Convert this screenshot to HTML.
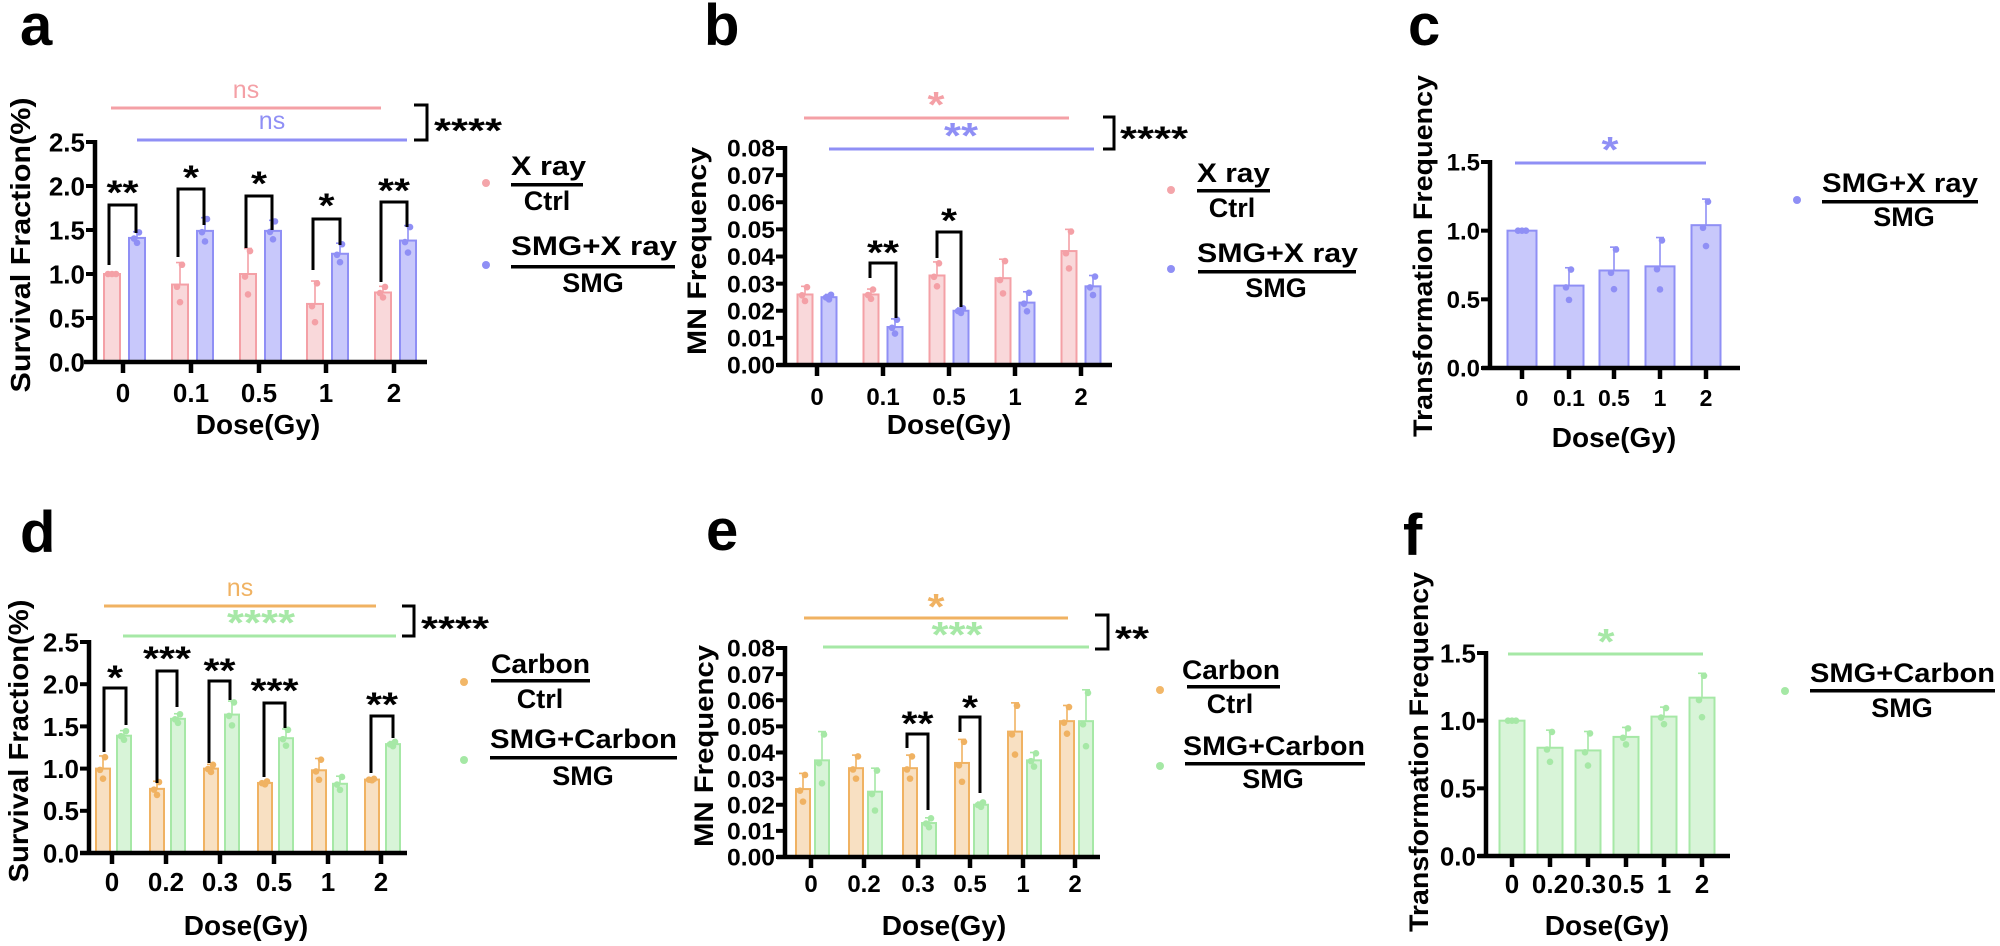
<!DOCTYPE html>
<html><head><meta charset="utf-8"><style>html,body{margin:0;padding:0;background:#fff}svg{display:block}</style></head>
<body>
<svg id="s" width="2000" height="946" viewBox="0 0 2000 946" xmlns="http://www.w3.org/2000/svg" font-family="Liberation Sans, Arial, sans-serif" font-weight="bold">
<rect width="2000" height="946" fill="#fff"/>
<text x="20" y="45" font-size="58">a</text>
<text x="704" y="45" font-size="58">b</text>
<text x="1408" y="45" font-size="58">c</text>
<text x="20" y="552" font-size="58">d</text>
<text x="706" y="550" font-size="58">e</text>
<text x="1403" y="555" font-size="58">f</text>
<text transform="translate(30,245) rotate(-90)" text-anchor="middle" font-size="28" textLength="295" lengthAdjust="spacingAndGlyphs">Survival Fraction(%)</text>
<text transform="translate(706,251) rotate(-90)" text-anchor="middle" font-size="27" textLength="208" lengthAdjust="spacingAndGlyphs">MN Frequency</text>
<text transform="translate(1432,256) rotate(-90)" text-anchor="middle" font-size="27" textLength="362" lengthAdjust="spacingAndGlyphs">Transformation Frequency</text>
<text transform="translate(28,741) rotate(-90)" text-anchor="middle" font-size="28" textLength="283" lengthAdjust="spacingAndGlyphs">Survival Fraction(%)</text>
<text transform="translate(713,746) rotate(-90)" text-anchor="middle" font-size="27" textLength="202" lengthAdjust="spacingAndGlyphs">MN Frequency</text>
<text transform="translate(1428,752) rotate(-90)" text-anchor="middle" font-size="27" textLength="360" lengthAdjust="spacingAndGlyphs">Transformation Frequency</text>
<text x="258" y="434" text-anchor="middle" font-size="28">Dose(Gy)</text>
<text x="949" y="434" text-anchor="middle" font-size="28">Dose(Gy)</text>
<text x="1614" y="447" text-anchor="middle" font-size="28">Dose(Gy)</text>
<text x="246" y="935" text-anchor="middle" font-size="28">Dose(Gy)</text>
<text x="944" y="935" text-anchor="middle" font-size="28">Dose(Gy)</text>
<text x="1607" y="935" text-anchor="middle" font-size="28">Dose(Gy)</text>
<g font-size="27">
<circle cx="486" cy="183" r="4" fill="#f4a5aa"/><text x="511" y="175" textLength="75" lengthAdjust="spacingAndGlyphs">X ray</text><rect x="511" y="183" width="72" height="3.5"/><text x="547" y="210" text-anchor="middle">Ctrl</text>
<circle cx="486" cy="265" r="4" fill="#8f8ff5"/><text x="511" y="255" textLength="166" lengthAdjust="spacingAndGlyphs">SMG+X ray</text><rect x="511" y="265" width="164" height="3.5"/><text x="593" y="292" text-anchor="middle">SMG</text>
<circle cx="1171" cy="190" r="4" fill="#f4a5aa"/><text x="1197" y="182" textLength="73" lengthAdjust="spacingAndGlyphs">X ray</text><rect x="1197" y="189" width="73" height="3.5"/><text x="1232" y="217" text-anchor="middle">Ctrl</text>
<circle cx="1171" cy="269" r="4" fill="#8f8ff5"/><text x="1197" y="262" textLength="161" lengthAdjust="spacingAndGlyphs">SMG+X ray</text><rect x="1198" y="270" width="158" height="3.5"/><text x="1276" y="297" text-anchor="middle">SMG</text>
<circle cx="1797" cy="200" r="4" fill="#8f8ff5"/><text x="1822" y="192" textLength="156" lengthAdjust="spacingAndGlyphs">SMG+X ray</text><rect x="1822" y="200" width="156" height="3.5"/><text x="1904" y="226" text-anchor="middle">SMG</text>
<circle cx="464" cy="682" r="4" fill="#f2b768"/><text x="491" y="673" textLength="99" lengthAdjust="spacingAndGlyphs">Carbon</text><rect x="491" y="679" width="99" height="3.5"/><text x="540" y="708" text-anchor="middle">Ctrl</text>
<circle cx="464" cy="760" r="4" fill="#a5e8a5"/><text x="490" y="748" textLength="187" lengthAdjust="spacingAndGlyphs">SMG+Carbon</text><rect x="490" y="756" width="187" height="3.5"/><text x="583" y="785" text-anchor="middle">SMG</text>
<circle cx="1160" cy="690" r="4" fill="#f2b768"/><text x="1182" y="679" textLength="98" lengthAdjust="spacingAndGlyphs">Carbon</text><rect x="1187" y="685" width="93" height="3.5"/><text x="1230" y="713" text-anchor="middle">Ctrl</text>
<circle cx="1160" cy="766" r="4" fill="#a5e8a5"/><text x="1183" y="755" textLength="182" lengthAdjust="spacingAndGlyphs">SMG+Carbon</text><rect x="1185" y="762" width="180" height="3.5"/><text x="1273" y="788" text-anchor="middle">SMG</text>
<circle cx="1785" cy="691" r="4" fill="#a5e8a5"/><text x="1810" y="682" textLength="185" lengthAdjust="spacingAndGlyphs">SMG+Carbon</text><rect x="1810" y="689" width="185" height="3.5"/><text x="1902" y="717" text-anchor="middle">SMG</text>
</g>
<g id="g"></g>
</svg>
<script>
var out=[];
function L(x1,y1,x2,y2,c,w){out.push('<line x1="'+x1+'" y1="'+y1+'" x2="'+x2+'" y2="'+y2+'" stroke="'+c+'" stroke-width="'+w+'"/>');}
function T(x,y,s,fs,extra){out.push('<text x="'+x+'" y="'+y+'" font-size="'+fs+'" '+(extra||'')+'>'+s+'</text>');}
var C={p:['#f4a0a6','#f9d8da'],b:['#8f8ff5','#c8c8fb'],o:['#f0b262','#f8e0c2'],g:['#a6e8a6','#d8f4d8']};
function panel(P){
  var Y=function(v){return P.y0-v/P.max*(P.y0-P.yt);};
  P.groups.forEach(function(gr,i){
    gr.forEach(function(b){
      var cx=P.xt[i]+b.off, col=C[b.c], w=P.w, yv=Y(b.v);
      out.push('<rect x="'+(cx-w/2)+'" y="'+yv+'" width="'+w+'" height="'+(P.y0-yv)+'" fill="'+col[1]+'" stroke="'+col[0]+'" stroke-width="2"/>');
      if(b.e>0){var ye=Y(b.v+b.e);L(cx,yv,cx,ye,col[0],1.6);L(cx-4,ye,cx+4,ye,col[0],1.6);}
      var ds=[b.v+b.e*0.9,b.v-b.e*0.1,b.v-b.e*0.8];var dx=[2,-3,0];
      if(b.e===0){ds=[b.v,b.v,b.v];dx=[-4,0,4];}
      ds.forEach(function(d,k){out.push('<circle cx="'+(cx+dx[k])+'" cy="'+Y(d)+'" r="3.3" fill="'+col[0]+'"/>');});
    });
  });
  L(P.ax,P.yt-2,P.ax,P.y0+2,'#000',4.5);
  L(P.xs,P.y0,P.xe,P.y0,'#000',4.5);
  P.yticks.forEach(function(t){var y=Y(t[0]);L(P.ax-9,y,P.ax,y,'#000',4);T(P.ax-10,y+P.tfs*0.36,t[1],P.tfs,'text-anchor="end"'+(P.tl?' textLength="'+P.tl+'" lengthAdjust="spacingAndGlyphs"':''));});
  P.xt.forEach(function(x,i){L(x,P.y0,x,P.y0+11,'#000',4.5);T(x,P.xly,P.xl[i],P.xfs||P.tfs,'text-anchor="middle"');});
  (P.sig||[]).forEach(function(s){L(s.x1,s.y,s.x2,s.y,C[s.c][0],3);
    if(s.ns)T((s.x1+s.x2)/2+(s.dx||0),s.ty+8,'ns',25,'font-weight="normal" fill="'+C[s.c][0]+'" text-anchor="middle"');
    else T(s.tx,s.ty+17,s.t,36,'fill="'+C[s.c][0]+'" text-anchor="middle" textLength="'+(s.t.length*17)+'" lengthAdjust="spacingAndGlyphs"');});
  if(P.br){var b=P.br;out.push('<polyline points="'+b.x1+','+b.y1+' '+b.x2+','+b.y1+' '+b.x2+','+b.y2+' '+b.x1+','+b.y2+'" fill="none" stroke="#000" stroke-width="3"/>');
    T(b.tx,b.ty+17,b.t,34,'textLength="'+(b.t.length*17)+'" lengthAdjust="spacingAndGlyphs"');}
  (P.pairs||[]).forEach(function(p){out.push('<polyline points="'+p.l+','+p.lb+' '+p.l+','+p.top+' '+p.r+','+p.top+' '+p.r+','+p.rb+'" fill="none" stroke="#000" stroke-width="3"/>');
    T((p.l+p.r)/2,p.sy+17,p.t,34,'text-anchor="middle" textLength="'+(p.t.length*16)+'" lengthAdjust="spacingAndGlyphs"');});
}
function g2(a,b,c1,c2,o1,o2){return a.map(function(x,i){return [{c:c1,off:o1,v:x[0],e:x[1]},{c:c2,off:o2,v:b[i][0],e:b[i][1]}];});}
function g1(a,c){return a.map(function(x){return [{c:c,off:0,v:x[0],e:x[1]}];});}
var sfT=[[0,'0.0'],[0.5,'0.5'],[1,'1.0'],[1.5,'1.5'],[2,'2.0'],[2.5,'2.5']];
var mnT=[];for(var i=0;i<=8;i++)mnT.push([i/100,'0.0'+i]);
var tfT=[[0,'0.0'],[0.5,'0.5'],[1,'1.0'],[1.5,'1.5']];
panel({ax:95,y0:362,yt:142,max:2.5,xs:84,xe:427,xt:[123,191,259,326,394],xl:['0','0.1','0.5','1','2'],xly:402,tfs:26,yticks:sfT,w:16,
 groups:g2([[1,0],[0.88,0.25],[1,0.29],[0.66,0.26],[0.79,0.07]],[[1.41,0.07],[1.49,0.15],[1.49,0.12],[1.23,0.12],[1.38,0.17]],'p','b',-11,14),
 sig:[{x1:111,x2:381,y:108,c:'p',ns:1,ty:90},{x1:137,x2:407,y:140,c:'b',ns:1,ty:121}],
 br:{x1:414,x2:427,y1:105,y2:140,tx:434,ty:125,t:'****'},
 pairs:[{l:109,r:136,top:205,lb:265,rb:233,sy:187,t:'**'},{l:178,r:204,top:189,lb:257,rb:225,sy:172,t:'*'},{l:246,r:272,top:196,lb:248,rb:230,sy:178,t:'*'},{l:313,r:340,top:219,lb:270,rb:245,sy:200,t:'*'},{l:381,r:407,top:202,lb:282,rb:227,sy:185,t:'**'}]});
panel({ax:785,y0:365,yt:148,max:0.08,xs:777,xe:1112,xt:[817,883,949,1015,1081],xl:['0','0.1','0.5','1','2'],xly:405,tfs:24,tl:48,yticks:mnT,w:15,
 groups:g2([[0.026,0.003],[0.026,0.002],[0.033,0.005],[0.032,0.007],[0.042,0.008]],[[0.025,0.001],[0.014,0.003],[0.020,0.001],[0.023,0.004],[0.029,0.004]],'p','b',-12,12),
 sig:[{x1:804,x2:1069,y:118,c:'p',tx:936,ty:100,t:'*'},{x1:829,x2:1094,y:149,c:'b',tx:961,ty:131,t:'**'}],
 br:{x1:1103,x2:1114,y1:117,y2:149,tx:1120,ty:133,t:'****'},
 pairs:[{l:870,r:896,top:263,lb:278,rb:318,sy:247,t:'**'},{l:937,r:961,top:232,lb:258,rb:307,sy:215,t:'*'}]});
panel({ax:1490,y0:368,yt:162,max:1.5,xs:1482,xe:1740,xt:[1522,1569,1614,1660,1706],xl:['0','0.1','0.5','1','2'],xly:406,tfs:24,xfs:23,yticks:tfT,w:29,
 groups:g1([[1,0],[0.6,0.13],[0.71,0.17],[0.74,0.21],[1.04,0.19]],'b'),
 sig:[{x1:1515,x2:1706,y:163,c:'b',tx:1610,ty:145,t:'*'}]});
panel({ax:89,y0:853,yt:642,max:2.5,xs:80,xe:407,xt:[112,166,220,274,328,381],xl:['0','0.2','0.3','0.5','1','2'],xly:891,tfs:26,yticks:sfT,w:14,
 groups:g2([[1,0.15],[0.76,0.09],[1,0.05],[0.83,0.02],[0.98,0.14],[0.87,0.01]],[[1.39,0.06],[1.59,0.06],[1.64,0.16],[1.36,0.11],[0.82,0.09],[1.29,0.03]],'o','g',-9,12),
 sig:[{x1:104,x2:376,y:606,c:'o',ns:1,ty:588},{x1:123,x2:396,y:636,c:'g',tx:261,ty:618,t:'****'}],
 br:{x1:402,x2:414,y1:606,y2:636,tx:421,ty:623,t:'****'},
 pairs:[{l:104,r:126,top:688,lb:752,rb:725,sy:672,t:'*'},{l:157,r:177,top:671,lb:783,rb:707,sy:653,t:'***'},{l:209,r:230,top:681,lb:763,rb:700,sy:665,t:'**'},{l:264,r:285,top:703,lb:777,rb:728,sy:685,t:'***'},{l:371,r:393,top:716,lb:773,rb:738,sy:699,t:'**'}]});
panel({ax:785,y0:857,yt:648,max:0.08,xs:777,xe:1100,xt:[811,864,918,970,1023,1075],xl:['0','0.2','0.3','0.5','1','2'],xly:892,tfs:24,tl:48,yticks:mnT,w:14,
 groups:g2([[0.026,0.006],[0.034,0.005],[0.034,0.005],[0.036,0.009],[0.048,0.011],[0.052,0.006]],[[0.037,0.011],[0.025,0.009],[0.013,0.002],[0.020,0.001],[0.037,0.003],[0.052,0.012]],'o','g',-8,11),
 sig:[{x1:804,x2:1068,y:618,c:'o',tx:936,ty:602,t:'*'},{x1:823,x2:1089,y:647,c:'g',tx:957,ty:630,t:'***'}],
 br:{x1:1095,x2:1108,y1:615,y2:649,tx:1115,ty:633,t:'**'},
 pairs:[{l:907,r:928,top:734,lb:748,rb:810,sy:718,t:'**'},{l:960,r:980,top:717,lb:732,rb:793,sy:702,t:'*'}]});
panel({ax:1486,y0:856,yt:653,max:1.5,xs:1478,xe:1730,xt:[1512,1550,1588,1626,1664,1702],xl:['0','0.2','0.3','0.5','1','2'],xly:893,tfs:26,yticks:tfT,w:25,
 groups:g1([[1,0],[0.8,0.13],[0.78,0.14],[0.88,0.07],[1.03,0.07],[1.17,0.18]],'g'),
 sig:[{x1:1508,x2:1703,y:654,c:'g',tx:1606,ty:637,t:'*'}]});
document.getElementById('g').innerHTML=out.join('');
</script>
</body></html>
